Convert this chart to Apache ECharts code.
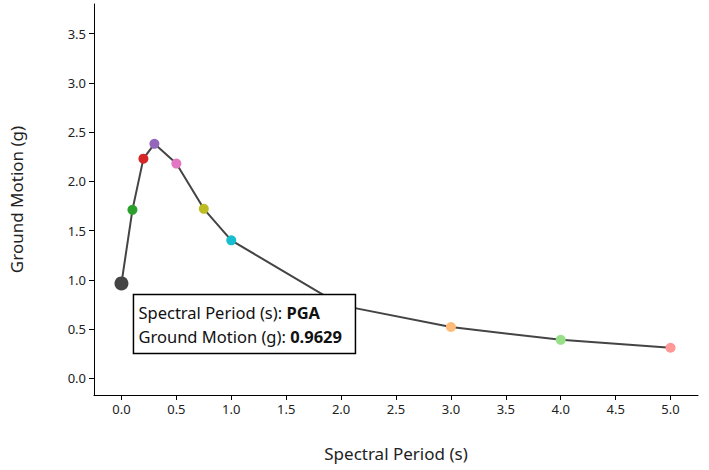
<!DOCTYPE html>
<html>
<head>
<meta charset="utf-8">
<script src="https://cdn.jsdelivr.net/npm/echarts@6/dist/echarts.min.js"></script>
<style>
  html, body { margin: 0; padding: 0; background: #fff; }
  #chart { width: 709px; height: 470px; }
</style>
</head>
<body>
<div id="chart"></div>
<script>
// spectral periods (first one is PGA, drawn at x = 0)
const periodNames = ['PGA', '0.1', '0.2', '0.3', '0.5', '0.75', '1.0', '2.0', '3.0', '4.0', '5.0']
const periodX = [0, 0.1, 0.2, 0.3, 0.5, 0.75, 1.0, 2.0, 3.0, 4.0, 5.0]
const groundMotion = [0.9629, 1.71, 2.23, 2.38, 2.18, 1.72, 1.40, 0.74, 0.52, 0.39, 0.31]
const pointColors = ['#444444', '#2ca02c', '#d62728', '#9467bd', '#e377c2', '#bcbd22', '#17becf', '#aec7e8', '#ffbb78', '#98df8a', '#ff9896']
const xTicks = [0, 0.5, 1, 1.5, 2, 2.5, 3, 3.5, 4, 4.5, 5]
const yTicks = [0, 0.5, 1, 1.5, 2, 2.5, 3, 3.5]

const font = '"Noto Sans", sans-serif'
const chart = echarts.init(document.getElementById('chart'), null, { renderer: 'svg' })

const points = periodX.map((x, i) => ({
  value: [x, groundMotion[i]],
  symbolSize: i === 0 ? 14 : 10,
  itemStyle: { color: pointColors[i] }
}))

const axisCommon = {
  type: 'value',
  splitLine: { show: false },
  axisLine: { show: true, onZero: false, lineStyle: { color: '#000', width: 1 } },
  axisTick: { show: true, length: 5, lineStyle: { color: '#000' } },
  axisLabel: { color: '#222', fontSize: 13, fontFamily: font, formatter: v => v.toFixed(1) },
  nameLocation: 'middle',
  nameTextStyle: { color: '#222', fontSize: 17, fontFamily: font }
}

chart.setOption({
  animation: false,
  grid: { left: 92, top: 4, right: 11, bottom: 75 },
  xAxis: Object.assign({}, axisCommon, {
    min: -0.25, max: 5.25,
    name: 'Spectral Period (s)', nameGap: 50,
    axisTick: Object.assign({}, axisCommon.axisTick, { customValues: xTicks }),
    axisLabel: Object.assign({}, axisCommon.axisLabel, { customValues: xTicks, margin: 7 })
  }),
  yAxis: Object.assign({}, axisCommon, {
    min: -0.17, max: 3.8,
    name: 'Ground Motion (g)', nameGap: 69,
    axisTick: Object.assign({}, axisCommon.axisTick, { customValues: yTicks }),
    axisLabel: Object.assign({}, axisCommon.axisLabel, { customValues: yTicks, margin: 8 })
  }),
  series: [{
    type: 'line',
    data: points,
    symbol: 'circle',
    lineStyle: { color: '#444', width: 2 },
    z: 2
  }]
})

// tooltip-like box anchored next to the PGA point
const p = chart.convertToPixel({ gridIndex: 0 }, [periodX[0], groundMotion[0]])
chart.setOption({
  graphic: [{
    type: 'group',
    x: p[0] + 12,
    y: p[1] + 11,
    z: 100,
    children: [{
      type: 'rect',
      z: 100,
      shape: { x: 0, y: 0, width: 222, height: 59 },
      style: { fill: '#fff', stroke: '#000', lineWidth: 1.5 }
    }, {
      type: 'text',
      z: 101,
      x: 5, y: 6,
      style: {
        text: '{n|Spectral Period (s): }{b|' + periodNames[0] + '}\n{n|Ground Motion (g): }{b|' + groundMotion[0].toFixed(4) + '}',
        rich: {
          n: { fontSize: 16.5, fontFamily: font, fill: '#111', lineHeight: 24 },
          b: { fontSize: 16.5, fontFamily: font, fill: '#111', fontWeight: 'bold', lineHeight: 24 }
        }
      }
    }]
  }]
})
</script>
</body>
</html>
